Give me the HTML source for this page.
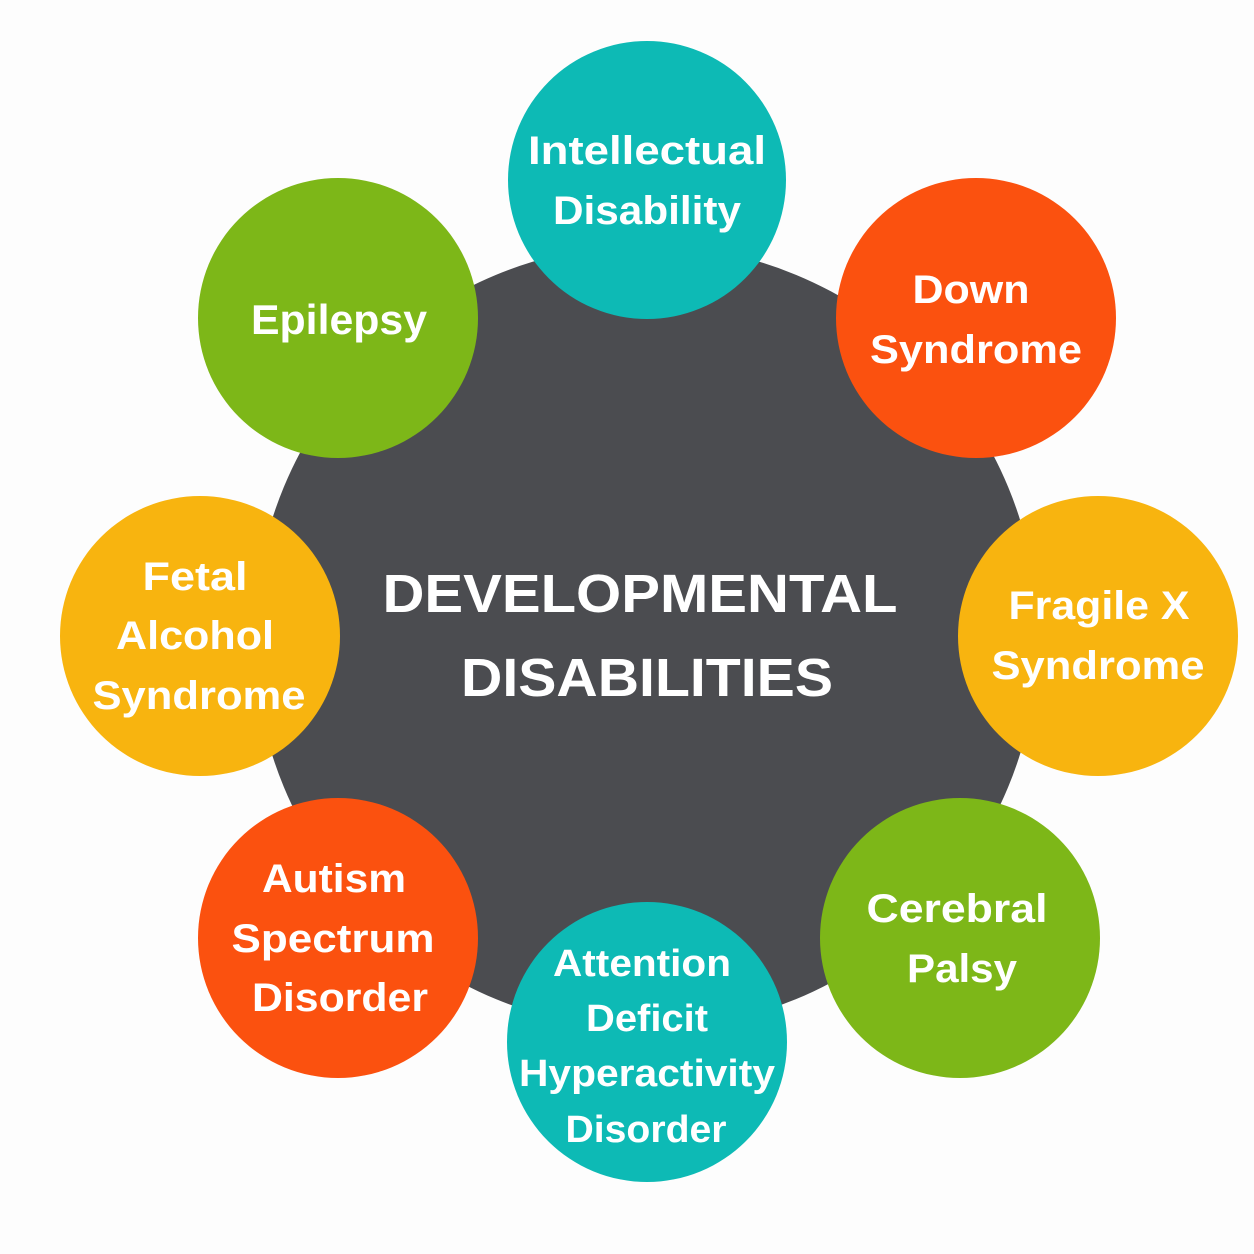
<!DOCTYPE html>
<html><head><meta charset="utf-8"><style>
html,body{margin:0;padding:0;background:#fdfdfd;}
svg{display:block}
text{font-family:"Liberation Sans",sans-serif;font-weight:bold;fill:#fff;text-anchor:middle}
</style></head><body>
<svg width="1254" height="1254" viewBox="0 0 1254 1254">
<rect width="1254" height="1254" fill="#fdfdfd"/>
<circle cx="646" cy="637" r="392" fill="#4b4c50"/>
<g font-size="40">
<circle cx="647" cy="180" r="139" fill="#0dbab5"/>
<text x="647" y="164" textLength="238" lengthAdjust="spacingAndGlyphs">Intellectual</text>
<text x="647" y="224" textLength="188" lengthAdjust="spacingAndGlyphs">Disability</text>

<circle cx="976" cy="318" r="140" fill="#fb510f"/>
<text x="971" y="303" textLength="117" lengthAdjust="spacingAndGlyphs">Down</text>
<text x="976" y="363" textLength="212" lengthAdjust="spacingAndGlyphs">Syndrome</text>

<circle cx="1098" cy="636" r="140" fill="#f8b40f"/>
<text x="1099" y="619" textLength="181" lengthAdjust="spacingAndGlyphs">Fragile X</text>
<text x="1098" y="679" textLength="213" lengthAdjust="spacingAndGlyphs">Syndrome</text>

<circle cx="960" cy="938" r="140" fill="#7db718"/>
<text x="957" y="922" textLength="181" lengthAdjust="spacingAndGlyphs">Cerebral</text>
<text x="962" y="982" textLength="110" lengthAdjust="spacingAndGlyphs">Palsy</text>

<circle cx="647" cy="1042" r="140" fill="#0dbab5"/>
<text x="642" y="976" font-size="38" textLength="178" lengthAdjust="spacingAndGlyphs">Attention</text>
<text x="647" y="1031" font-size="38" textLength="122" lengthAdjust="spacingAndGlyphs">Deficit</text>
<text x="647" y="1086" font-size="38" textLength="256" lengthAdjust="spacingAndGlyphs">Hyperactivity</text>
<text x="646" y="1142" font-size="38" textLength="161" lengthAdjust="spacingAndGlyphs">Disorder</text>

<circle cx="338" cy="938" r="140" fill="#fb510f"/>
<text x="334" y="892" textLength="144" lengthAdjust="spacingAndGlyphs">Autism</text>
<text x="333" y="952" textLength="203" lengthAdjust="spacingAndGlyphs">Spectrum</text>
<text x="340" y="1011" textLength="176" lengthAdjust="spacingAndGlyphs">Disorder</text>

<circle cx="200" cy="636" r="140" fill="#f8b40f"/>
<text x="195" y="590" textLength="105" lengthAdjust="spacingAndGlyphs">Fetal</text>
<text x="195" y="649" textLength="158" lengthAdjust="spacingAndGlyphs">Alcohol</text>
<text x="199" y="709" textLength="213" lengthAdjust="spacingAndGlyphs">Syndrome</text>

<circle cx="338" cy="318" r="140" fill="#7db718"/>
<text x="339" y="334" font-size="42" textLength="176" lengthAdjust="spacingAndGlyphs">Epilepsy</text>
</g>
<text x="640" y="612" font-size="54" textLength="515" lengthAdjust="spacingAndGlyphs">DEVELOPMENTAL</text>
<text x="647" y="696" font-size="54" textLength="372" lengthAdjust="spacingAndGlyphs">DISABILITIES</text>
</svg>
</body></html>
